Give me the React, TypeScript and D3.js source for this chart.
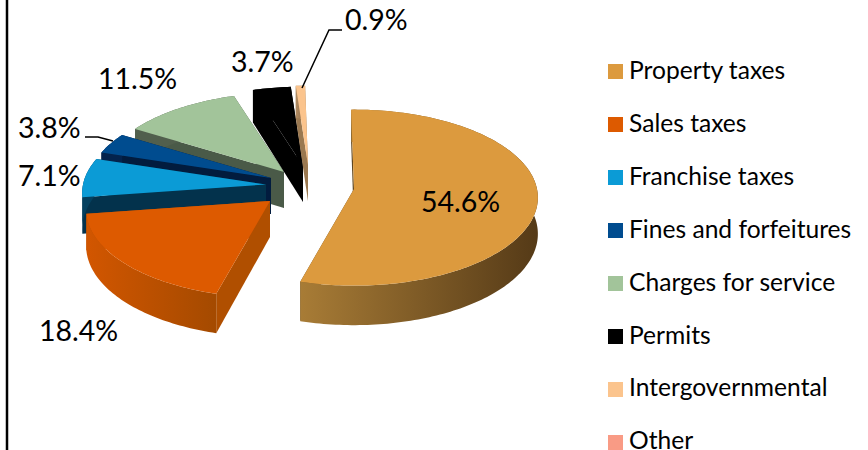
import React from "react";
import * as d3 from "d3";

const categories = ["Property taxes", "Sales taxes", "Franchise taxes", "Fines and forfeitures", "Charges for service", "Permits", "Intergovernmental", "Other"];
const shares = [54.6, 18.4, 7.1, 3.8, 11.5, 3.7, 0.9, 0];
const valueLabels = ["54.6%", "18.4%", "7.1%", "3.8%", "11.5%", "3.7%", "0.9%", ""];
const topColors = ["#dc9a3e", "#dd5a00", "#0b9bd6", "#004c8f", "#a2c49a", "#000000", "#fbc48d", "#f99b85"];
const wallLeft = ["#a87c36", "#d25600", "#04405f", "#04234d", "#515f4d", "#000000", "#b08a60", "#a06050"];
const wallRight = ["#553a17", "#a44a00", "#04405f", "#04234d", "#515f4d", "#000000", "#8a6a48", "#a06050"];
const radialColors = ["#5f4620", "#b04f00", "#03324c", "#021c3e", "#4a5a48", "#000000", "#9a7850", "#a06050"];
const sliceDx = [54, -30, -34, -29, -16, 3, 8, 8];
const sliceDy = [3, 15, -1.5, -8, -14, -20, -21, -21];
const labelAnchors: [number, number][] = [[421, 212], [39, 341], [18, 186], [18, 138], [98, 89], [231, 72], [345, 30]];
const leader38: [number, number][] = [[85, 137], [98, 137], [113, 141]];
const leader09: [number, number][] = [[302, 88], [329, 30], [342, 30]];

const W = 868, H = 450;
const cx = 300, cy = 186, Rx = 183, Ry = 88, P = 0.098, depth = 36;
const start = (-1 * Math.PI) / 180;
const font = "Lato, 'Open Sans', sans-serif";

const pie = d3.pie<number>().sort(null).value((d) => d).startAngle(start).endAngle(start + 2 * Math.PI);
const arcs = pie(shares);

type Pt = [number, number];
function project(ax: number, ay: number, a: number, r = 1): Pt {
  const u = Math.sin(a) * r, v = -Math.cos(a) * r;
  const s = 1 + P * v;
  return [ax + Rx * u * s, ay + Ry * v * s];
}
function lower(p: Pt, a: number, r = 1): Pt {
  const s = 1 + P * (-Math.cos(a) * r);
  return [p[0], p[1] + depth * s];
}
const line = d3.line<Pt>();
const closed = (pts: Pt[]) => (line(pts) as string) + "Z";

const slices = arcs.map((d, i) => {
  const ax = cx + sliceDx[i];
  const ay = cy + sliceDy[i];
  const n = Math.max(2, Math.ceil((d.endAngle - d.startAngle) / 0.02));
  const angles = d3.range(n + 1).map((k) => d.startAngle + ((d.endAngle - d.startAngle) * k) / n);
  const rim = angles.map((a) => project(ax, ay, a));
  const rimLow = rim.map((p, k) => lower(p, angles[k]));
  const apex: Pt = [ax, ay];
  const apexLow = lower(apex, 0, 0);
  const top = closed([apex, ...rim]);
  const outer = closed([...rim, ...rimLow.slice().reverse()]);
  const radialA = closed([apex, rim[0], rimLow[0], apexLow]);
  const radialB = closed([apex, rim[n], rimLow[n], apexLow]);
  const xs = rim.map((p) => p[0]);
  return { i, top, outer, radialA, radialB, x0: d3.min(xs) as number, x1: d3.max(xs) as number };
});
const drawOrder = [4, 5, 6, 3, 2, 1, 0];

export default function App() {
  return (
    <svg width={W} height={H} style={{ position: "fixed", left: 0, top: 0, background: "#fff" }}>
      <defs>
        {slices.map((s) => (
          <linearGradient key={s.i} id={`wall${s.i}`} gradientUnits="userSpaceOnUse" x1={s.x0} x2={s.x1} y1={0} y2={0}>
            <stop offset="0%" stopColor={wallLeft[s.i]} />
            <stop offset="100%" stopColor={wallRight[s.i]} />
          </linearGradient>
        ))}
      </defs>
      <line x1={7} x2={7} y1={0} y2={H} stroke="#000" strokeWidth={2.5} />
      {drawOrder.map((i) => {
        const s = slices[i];
        return (
          <g key={i}>
            <path d={s.radialB} fill={radialColors[i]} />
            <path d={s.radialA} fill={radialColors[i]} />
            <path d={s.outer} fill={`url(#wall${i})`} />
            <path d={s.top} fill={topColors[i]} />
          </g>
        );
      })}
      <path d={line(leader38) as string} fill="none" stroke="#000" strokeWidth={1.5} />
      <path d={line(leader09) as string} fill="none" stroke="#000" strokeWidth={1.5} />
      {labelAnchors.map((p, i) => (
        <text key={i} x={p[0]} y={p[1]} fontFamily={font} fontSize={28.5} fill="#000">
          {valueLabels[i]}
        </text>
      ))}
      {categories.map((c, i) => (
        <g key={c}>
          <rect x={608} y={64 + 53 * i} width={15} height={15} fill={topColors[i]} />
          <text x={629} y={79 + 52.9 * i} fontFamily={font} fontSize={24.6} fill="#000">
            {c}
          </text>
        </g>
      ))}
    </svg>
  );
}
